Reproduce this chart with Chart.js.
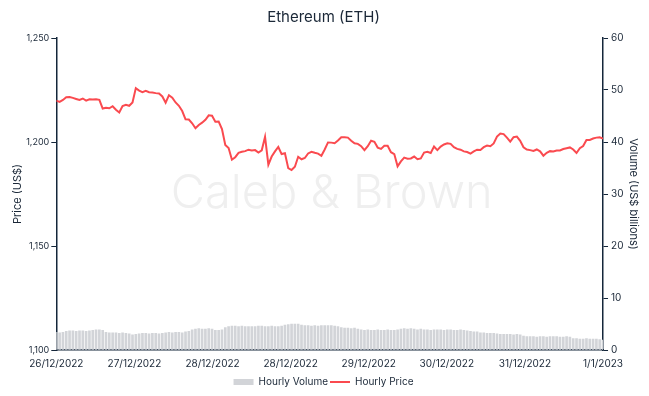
<!DOCTYPE html>
<html>
<head>
<meta charset="utf-8">
<script src="https://cdn.jsdelivr.net/npm/chart.js@4/dist/chart.umd.min.js"></script>
<style>
  html, body { margin: 0; padding: 0; background: #ffffff; }
  #wrap { width: 649px; height: 396px; }
</style>
</head>
<body>
<div id="wrap"><canvas id="grafico"></canvas></div>
<script>
// etiquetas del eje x (8 marcas repartidas igual)
const tickLabels = ['26/12/2022', '27/12/2022', '28/12/2022', '28/12/2022', '29/12/2022', '30/12/2022', '31/12/2022', '1/1/2023'];

// precio horario (US$)
const hourlyPrice = [
    1219.9, 1219.3, 1220.2, 1221.5, 1221.6, 1221.2, 1220.7, 1220.2, 1220.9, 1219.9,
    1220.5, 1220.4, 1220.6, 1220.3, 1216.1, 1216.5, 1216.2, 1217.2, 1215.5, 1214.2,
    1217.3, 1217.9, 1217.4, 1219.0, 1225.9, 1224.7, 1224.0, 1224.6, 1223.9, 1223.8,
    1223.5, 1223.3, 1221.9, 1218.9, 1222.5, 1221.3, 1219.0, 1217.4, 1214.9, 1210.9,
    1210.8, 1209.0, 1206.6, 1208.2, 1209.3, 1210.7, 1212.8, 1212.6, 1209.7, 1209.8,
    1206.2, 1198.6, 1197.1, 1191.5, 1192.7, 1194.8, 1195.3, 1195.6, 1196.3, 1195.9,
    1196.1, 1194.9, 1196.0, 1202.5, 1189.1, 1193.0, 1195.5, 1197.6, 1194.2, 1194.6,
    1187.4, 1186.5, 1188.1, 1192.9, 1191.7, 1192.3, 1194.5, 1195.3, 1194.8, 1194.4,
    1193.4, 1196.4, 1199.8, 1199.7, 1199.4, 1200.7, 1202.3, 1202.3, 1202.1, 1200.6,
    1199.4, 1199.1, 1198.0, 1196.1, 1198.0, 1200.6, 1200.1, 1197.3, 1196.7, 1198.2,
    1198.2, 1195.1, 1194.2, 1188.3, 1190.7, 1192.5, 1192.0, 1192.1, 1193.0, 1191.7,
    1192.1, 1194.9, 1195.3, 1194.7, 1197.8, 1196.1, 1197.8, 1198.8, 1199.4, 1199.1,
    1197.5, 1196.7, 1196.3, 1195.5, 1195.2, 1194.4, 1195.5, 1196.3, 1196.2, 1197.5,
    1198.3, 1198.0, 1199.3, 1202.6, 1204.1, 1203.8, 1202.1, 1200.2, 1202.3, 1202.6,
    1200.6, 1197.5, 1196.4, 1196.1, 1195.7, 1196.4, 1195.5, 1193.4, 1194.8, 1195.6,
    1195.4, 1195.9, 1195.9, 1196.6, 1197.0, 1197.4, 1196.4, 1194.7, 1197.0, 1198.1,
    1201.0, 1201.0, 1201.7, 1202.1, 1202.3, 1201.6
];

// volumen horario (US$ miles de millones)
const hourlyVolume = [
    3.4, 3.3, 3.4, 3.6, 3.7, 3.7, 3.6, 3.7, 3.7, 3.6,
    3.7, 3.8, 3.9, 3.9, 3.8, 3.4, 3.3, 3.3, 3.3, 3.2,
    3.3, 3.2, 3.1, 2.9, 3.0, 3.1, 3.2, 3.2, 3.1, 3.2,
    3.2, 3.1, 3.2, 3.3, 3.4, 3.3, 3.4, 3.4, 3.3, 3.5,
    3.6, 3.9, 4.0, 4.1, 4.0, 4.0, 4.1, 4.0, 3.8, 3.8,
    3.9, 4.3, 4.5, 4.6, 4.6, 4.5, 4.6, 4.5, 4.5, 4.5,
    4.5, 4.6, 4.6, 4.5, 4.5, 4.6, 4.5, 4.5, 4.6, 4.8,
    4.9, 5.0, 5.0, 5.0, 4.8, 4.7, 4.7, 4.6, 4.7, 4.6,
    4.7, 4.7, 4.7, 4.7, 4.6, 4.5, 4.3, 4.2, 4.2, 4.1,
    4.2, 4.0, 3.9, 3.8, 3.9, 3.8, 3.8, 3.9, 3.8, 3.8,
    3.9, 3.8, 3.8, 3.9, 4.0, 4.1, 4.0, 4.1, 4.0, 3.9,
    4.0, 3.9, 3.9, 3.8, 3.9, 3.9, 3.9, 3.8, 3.9, 3.9,
    3.8, 3.8, 3.9, 3.8, 3.7, 3.6, 3.5, 3.5, 3.3, 3.3,
    3.2, 3.2, 3.2, 3.1, 3.0, 3.0, 3.0, 3.0, 2.9, 3.0,
    2.9, 2.7, 2.6, 2.6, 2.6, 2.5, 2.6, 2.6, 2.5, 2.6,
    2.6, 2.6, 2.5, 2.5, 2.6, 2.5, 2.2, 2.2, 2.1, 2.1,
    2.2, 2.1, 2.1, 2.1, 2.0, 1.9
];

const colorTexto = '#1b2838';
const colorEje = '#14263a';
const ultimo = hourlyPrice.length - 1;

// marca de agua
const marcaAgua = {
    id: 'marcaAgua',
    beforeDatasetsDraw(chart) {
        const { ctx, chartArea } = chart;
        ctx.save();
        ctx.font = '300 47px Inter';
        ctx.fillStyle = '#efefef';
        ctx.textAlign = 'center';
        ctx.textBaseline = 'middle';
        ctx.fillText('Caleb & Brown', (chartArea.left + chartArea.right) / 2 + 2, (chartArea.top + chartArea.bottom) / 2);
        ctx.restore();
    }
};

Chart.defaults.font.family = 'Inter';
Chart.defaults.color = colorTexto;

const ctx = document.getElementById('grafico').getContext('2d');

new Chart(ctx, {
    type: 'bar',
    data: {
        datasets: [{
            type: 'bar',
            label: 'Hourly Volume',
            data: hourlyVolume.map((v, i) => ({ x: i, y: v })),
            yAxisID: 'yVol',
            backgroundColor: '#d2d4d8',
            borderWidth: 0,
            barThickness: 2,
            pointStyle: 'rect'
        }, {
            type: 'line',
            label: 'Hourly Price',
            data: hourlyPrice.map((v, i) => ({ x: i, y: v })),
            yAxisID: 'yPrecio',
            borderColor: '#fa4a4f',
            backgroundColor: '#fa4a4f',
            borderWidth: 2,
            pointRadius: 0,
            tension: 0,
            fill: false,
            pointStyle: 'line'
        }]
    },
    options: {
        responsive: true,
        maintainAspectRatio: false,
        animation: false,
        layout: { padding: { left: 7, right: 9, top: 0, bottom: -1 } },
        plugins: {
            title: {
                display: true,
                text: 'Ethereum (ETH)',
                color: colorTexto,
                font: { size: 15, weight: 'normal' },
                padding: { top: 8, bottom: 12 }
            },
            legend: {
                position: 'bottom',
                labels: {
                    usePointStyle: true,
                    pointStyleWidth: 20,
                    boxHeight: 6,
                    font: { size: 10 },
                    color: colorTexto,
                    padding: 2
                }
            },
            tooltip: { enabled: false }
        },
        scales: {
            x: {
                type: 'linear',
                min: 0,
                max: ultimo,
                offset: false,
                afterBuildTicks(axis) {
                    axis.ticks = tickLabels.map((_, k) => ({ value: k * ultimo / (tickLabels.length - 1) }));
                },
                ticks: {
                    autoSkip: false,
                    maxRotation: 0,
                    font: { size: 10 },
                    color: colorTexto,
                    padding: 5,
                    callback: (value, index) => tickLabels[index]
                },
                grid: { display: true, drawOnChartArea: false, drawTicks: true, tickLength: 3, color: 'rgba(0,0,0,0)' },
                border: { display: true, color: colorEje, width: 1.5 }
            },
            yPrecio: {
                position: 'left',
                min: 1100,
                max: 1250,
                ticks: { stepSize: 50, font: { size: 9 }, color: colorTexto, padding: 2 },
                grid: { drawOnChartArea: false, tickLength: 5, color: colorEje },
                border: { display: true, color: colorEje, width: 1.5 },
                title: { display: true, text: 'Price (US$)', font: { size: 11 }, color: colorTexto, padding: { top: 4, bottom: 0 } }
            },
            yVol: {
                position: 'right',
                min: 0,
                max: 60,
                ticks: { stepSize: 10, font: { size: 10 }, color: colorTexto, padding: 3 },
                grid: { drawOnChartArea: false, tickLength: 5, color: colorEje },
                border: { display: true, color: colorEje, width: 1.5 },
                title: { display: true, text: 'Volume (US$ billions)', font: { size: 11 }, color: colorTexto, padding: { top: 0, bottom: 0 } }
            }
        }
    },
    plugins: [marcaAgua]
});
</script>
</body>
</html>
